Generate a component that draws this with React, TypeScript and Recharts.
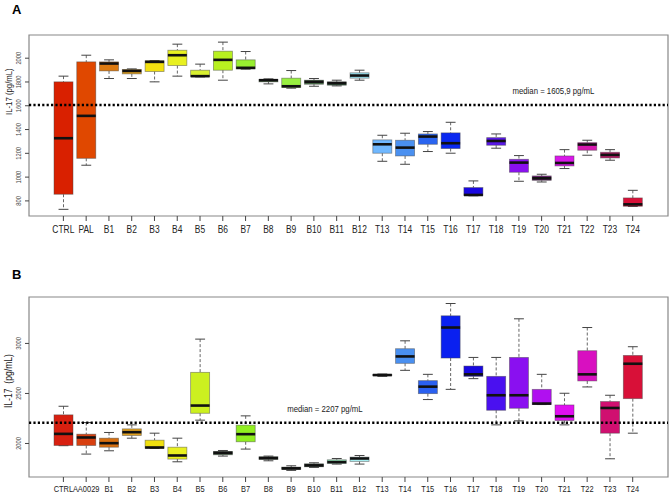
import React from 'react';
import { ComposedChart, Bar, XAxis, YAxis, ReferenceLine, ReferenceArea } from 'recharts';

// ---- panel A ----
const labelsA = ['CTRL', 'PAL', 'B1', 'B2', 'B3', 'B4', 'B5', 'B6', 'B7', 'B8', 'B9', 'B10', 'B11', 'B12',
  'T13', 'T14', 'T15', 'T16', 'T17', 'T18', 'T19', 'T20', 'T21', 'T22', 'T23', 'T24'];
const lowA = [729, 1100, 1829, 1829, 1801, 1849, 1843, 1815, 1908, 1784, 1748, 1764, 1767, 1815,
  1133, 1108, 1215, 1201, 843, 1243, 965, 959, 1072, 1184, 1142, 753];
const q1A = [856, 1158, 1893, 1868, 1888, 1938, 1845, 1899, 1910, 1801, 1753, 1781, 1773, 1832,
  1201, 1178, 1276, 1240, 845, 1268, 1041, 973, 1094, 1226, 1161, 755];
const medA = [1327, 1515, 1955, 1893, 1969, 2025, 1849, 1986, 1919, 1815, 1764, 1801, 1790, 1854,
  1276, 1248, 1341, 1285, 850, 1304, 1122, 990, 1119, 1274, 1187, 771];
const q3A = [1801, 1969, 1969, 1905, 1978, 2067, 1899, 2059, 1986, 1820, 1832, 1815, 1801, 1877,
  1313, 1310, 1363, 1372, 912, 1332, 1150, 1010, 1178, 1290, 1209, 825];
const highA = [1849, 2025, 1986, 1910, 1980, 2118, 1950, 2135, 2056, 1826, 1896, 1829, 1815, 1899,
  1352, 1369, 1383, 1461, 968, 1363, 1181, 1024, 1231, 1310, 1231, 889];
const medianA = 1605.9;
const ticksA = [800, 1000, 1200, 1400, 1600, 1800, 2000];

// ---- panel B ----
const labelsB = ['CTRL', 'AA0029', 'B1', 'B2', 'B3', 'B4', 'B5', 'B6', 'B7', 'B8', 'B9', 'B10', 'B11', 'B12',
  'T13', 'T14', 'T15', 'T16', 'T17', 'T18', 'T19', 'T20', 'T21', 'T22', 'T23', 'T24'];
const lowB = [1978, 1894, 1927, 2053, 1950, 1817, 2233, 1874, 1944, 1827, 1731, 1761, 1794, 1794,
  2671, 2731, 2439, 2541, 2648, 2186, 2226, 2389, 2186, 2565, 1847, 2103];
const q1B = [1980, 1980, 1963, 2080, 1953, 1844, 2302, 1887, 2017, 1841, 1741, 1767, 1801, 1821,
  2678, 2801, 2498, 2854, 2671, 2332, 2352, 2389, 2229, 2625, 2103, 2448];
const medB = [2096, 2060, 2003, 2113, 1960, 1880, 2379, 1907, 2093, 1854, 1751, 1781, 1814, 1850,
  2684, 2870, 2568, 3159, 2691, 2482, 2482, 2399, 2272, 2691, 2355, 2797];
const q3B = [2286, 2093, 2053, 2146, 2033, 1963, 2711, 1920, 2183, 1867, 1764, 1797, 1837, 1864,
  2690, 2947, 2628, 3276, 2774, 2671, 2860, 2541, 2385, 2927, 2419, 2880];
const highB = [2372, 2209, 2110, 2186, 2103, 2053, 3043, 1930, 2276, 1874, 1777, 1807, 1850, 1880,
  2694, 3026, 2691, 3399, 2860, 2860, 3246, 2691, 2502, 3159, 2482, 2967];
const medianB = 2207;
const ticksB = [2000, 2500, 3000];

const colorsA = ['#d92000', '#e04800', '#dd7a10', '#e0a020', '#f2e010', '#e8f020', '#d8f030', '#b8f020',
  '#98ee30', '#5e8a50', '#98f040', '#507a50', '#3c6a48', '#98e0ee', '#70b8ff', '#4a90f0', '#2a64f0',
  '#0a28f0', '#1a08e0', '#5a18e8', '#8a10f0', '#6a2070', '#d818e8', '#d818b0', '#b8206a', '#d81038'];
const colorsB = ['#d82010', '#d84010', '#d87010', '#e0a020', '#f0e010', '#e8f020', '#ccf020', '#3e5e40',
  '#90ee20', '#3e5e40', '#2e4a30', '#3e5e48', '#9aeec0', '#a8eef0', '#303030', '#4a90f0', '#2a60f0',
  '#0a20f0', '#1808e0', '#4a10f0', '#8a10f0', '#b010f0', '#e010f0', '#d810c0', '#d01070', '#d81038'];

const FONT = '"Liberation Sans", Arial, sans-serif';
const NARROW = 0.82; // R's pdf font looks condensed
const xTicks = labelsA.map((_, i) => i);
const xDomain = [-1.51, 26.55];

const BoxShape = (props: any) => {
  const { x, y, width, height, payload } = props;
  const { lo, q1, med, q3, hi, color } = payload;
  const top = Math.min(y, y + height);
  const h = Math.abs(height);
  const py = (v: number) => top + ((hi - v) / (hi - lo)) * h;
  const cx = x + width / 2;
  const cap = width * 0.26;
  return (
    <g>
      <line x1={cx} x2={cx} y1={py(hi)} y2={py(q3)} stroke="#666" strokeDasharray="3 2" />
      <line x1={cx} x2={cx} y1={py(q1)} y2={py(lo)} stroke="#666" strokeDasharray="3 2" />
      <line x1={cx - cap} x2={cx + cap} y1={py(hi)} y2={py(hi)} stroke="#444" />
      <line x1={cx - cap} x2={cx + cap} y1={py(lo)} y2={py(lo)} stroke="#444" />
      <rect x={x} y={py(q3)} width={width} height={Math.max(py(q1) - py(q3), 0.8)} fill={color}
        stroke="rgba(70,70,70,0.55)" strokeWidth={0.8} />
      <line x1={x} x2={x + width} y1={py(med)} y2={py(med)} stroke="#111" strokeWidth={2.6} />
    </g>
  );
};

// text squeezed along its own direction
const Narrow = ({ x, y, rotate = 0, anchor = 'middle', size, fill = '#222', dy, children }: any) => (
  <g transform={`translate(${x},${y}) rotate(${rotate})`}>
    <text transform={`scale(${NARROW},1)`} textAnchor={anchor} fontSize={size} fill={fill}
      fontFamily={FONT} dy={dy}>
      {children}
    </text>
  </g>
);

const YTick = ({ x, y, payload }: any) => (
  <Narrow x={x} y={y} rotate={-90} size={7} fill="#444">{payload.value}</Narrow>
);

const makeXTick = (labels: string[], size: number) => ({ x, y, payload }: any) => (
  <Narrow x={x} y={y} size={size} dy="0.71em">{labels[payload.value]}</Narrow>
);

interface PanelProps {
  labels: string[];
  low: number[];
  q1: number[];
  med: number[];
  q3: number[];
  high: number[];
  colors: string[];
  median: number;
  medianText: string;
  medianFrac: number;
  yDomain: number[];
  yTicks: number[];
  yLabel: string;
  yLabelFrac: number;
  yLabelSize: number;
  xTickSize: number;
  height: number;
  top: number;
  xAxisHeight: number;
  tickMargin: number;
}

const Panel = (p: PanelProps) => {
  const data = p.labels.map((name, i) => ({
    i, name, lo: p.low[i], q1: p.q1[i], med: p.med[i], q3: p.q3[i], hi: p.high[i], color: p.colors[i],
  }));
  const XTick = makeXTick(p.labels, p.xTickSize);
  return (
    <ComposedChart width={672} height={p.height} data={data}
      margin={{ top: p.top, right: 4, bottom: 0, left: 0 }} style={{ fontFamily: FONT }}>
      <XAxis type="number" dataKey="i" domain={xDomain} allowDataOverflow ticks={xTicks} interval={0}
        height={p.xAxisHeight} axisLine={false}
        tickLine={{ stroke: '#444' }} tickSize={5} tickMargin={p.tickMargin} tick={<XTick />} />
      <YAxis type="number" domain={p.yDomain} allowDataOverflow ticks={p.yTicks} width={29}
        axisLine={false} tickLine={{ stroke: '#444' }} tickSize={4} tickMargin={4} tick={<YTick />}
        label={{
          content: (lp: any) => {
            const vb = lp.viewBox;
            return (
              <Narrow x={12} y={vb.y + vb.height * p.yLabelFrac} rotate={-90} size={p.yLabelSize}>
                {p.yLabel}
              </Narrow>
            );
          },
        }} />
      <ReferenceArea x1={xDomain[0]} x2={xDomain[1]} y1={p.yDomain[0]} y2={p.yDomain[1]}
        fill="none" stroke="#888" strokeWidth={1.2} fillOpacity={0} />
      <ReferenceLine y={p.median} stroke="#000" strokeWidth={2.4} strokeDasharray="2.2 2.2"
        label={{
          content: (lp: any) => {
            const vb = lp.viewBox;
            return (
              <Narrow x={vb.x + vb.width * p.medianFrac} y={vb.y - 11} anchor="start" size={9.5}>
                {p.medianText}
              </Narrow>
            );
          },
        }} />
      <Bar dataKey={(d: any) => [d.lo, d.hi]} barSize={19} shape={<BoxShape />} isAnimationActive={false} />
    </ComposedChart>
  );
};

export default function App() {
  return (
    <div style={{ position: 'absolute', left: 0, top: 0, width: 672, height: 497, background: '#fff',
      fontFamily: FONT }}>
      <div style={{ position: 'absolute', left: 0, top: 0 }}>
        <Panel labels={labelsA} low={lowA} q1={q1A} med={medA} q3={q3A} high={highA} colors={colorsA}
          median={medianA} medianText="median = 1605,9 pg/mL" medianFrac={0.7566}
          yDomain={[673, 2195]} yTicks={ticksA} yLabel="IL-17 (pg/mL)" yLabelFrac={0.313} yLabelSize={9.5}
          xTickSize={10.3} height={248} top={35} xAxisHeight={32} tickMargin={5} />
      </div>
      <div style={{ position: 'absolute', left: 0, top: 248 }}>
        <Panel labels={labelsB} low={lowB} q1={q1B} med={medB} q3={q3B} high={highB} colors={colorsB}
          median={medianB} medianText="median = 2207 pg/mL" medianFrac={0.404}
          yDomain={[1665, 3464]} yTicks={ticksB} yLabel={'IL-17\u00a0\u00a0(pg/mL)'} yLabelFrac={0.467}
          yLabelSize={10.5} xTickSize={9.1} height={249} top={49} xAxisHeight={20} tickMargin={4} />
      </div>
      <div style={{ position: 'absolute', left: 12, top: 3, fontSize: 13, lineHeight: '13px',
        fontWeight: 'bold' }}>A</div>
      <div style={{ position: 'absolute', left: 12, top: 268, fontSize: 13, lineHeight: '13px',
        fontWeight: 'bold' }}>B</div>
    </div>
  );
}
